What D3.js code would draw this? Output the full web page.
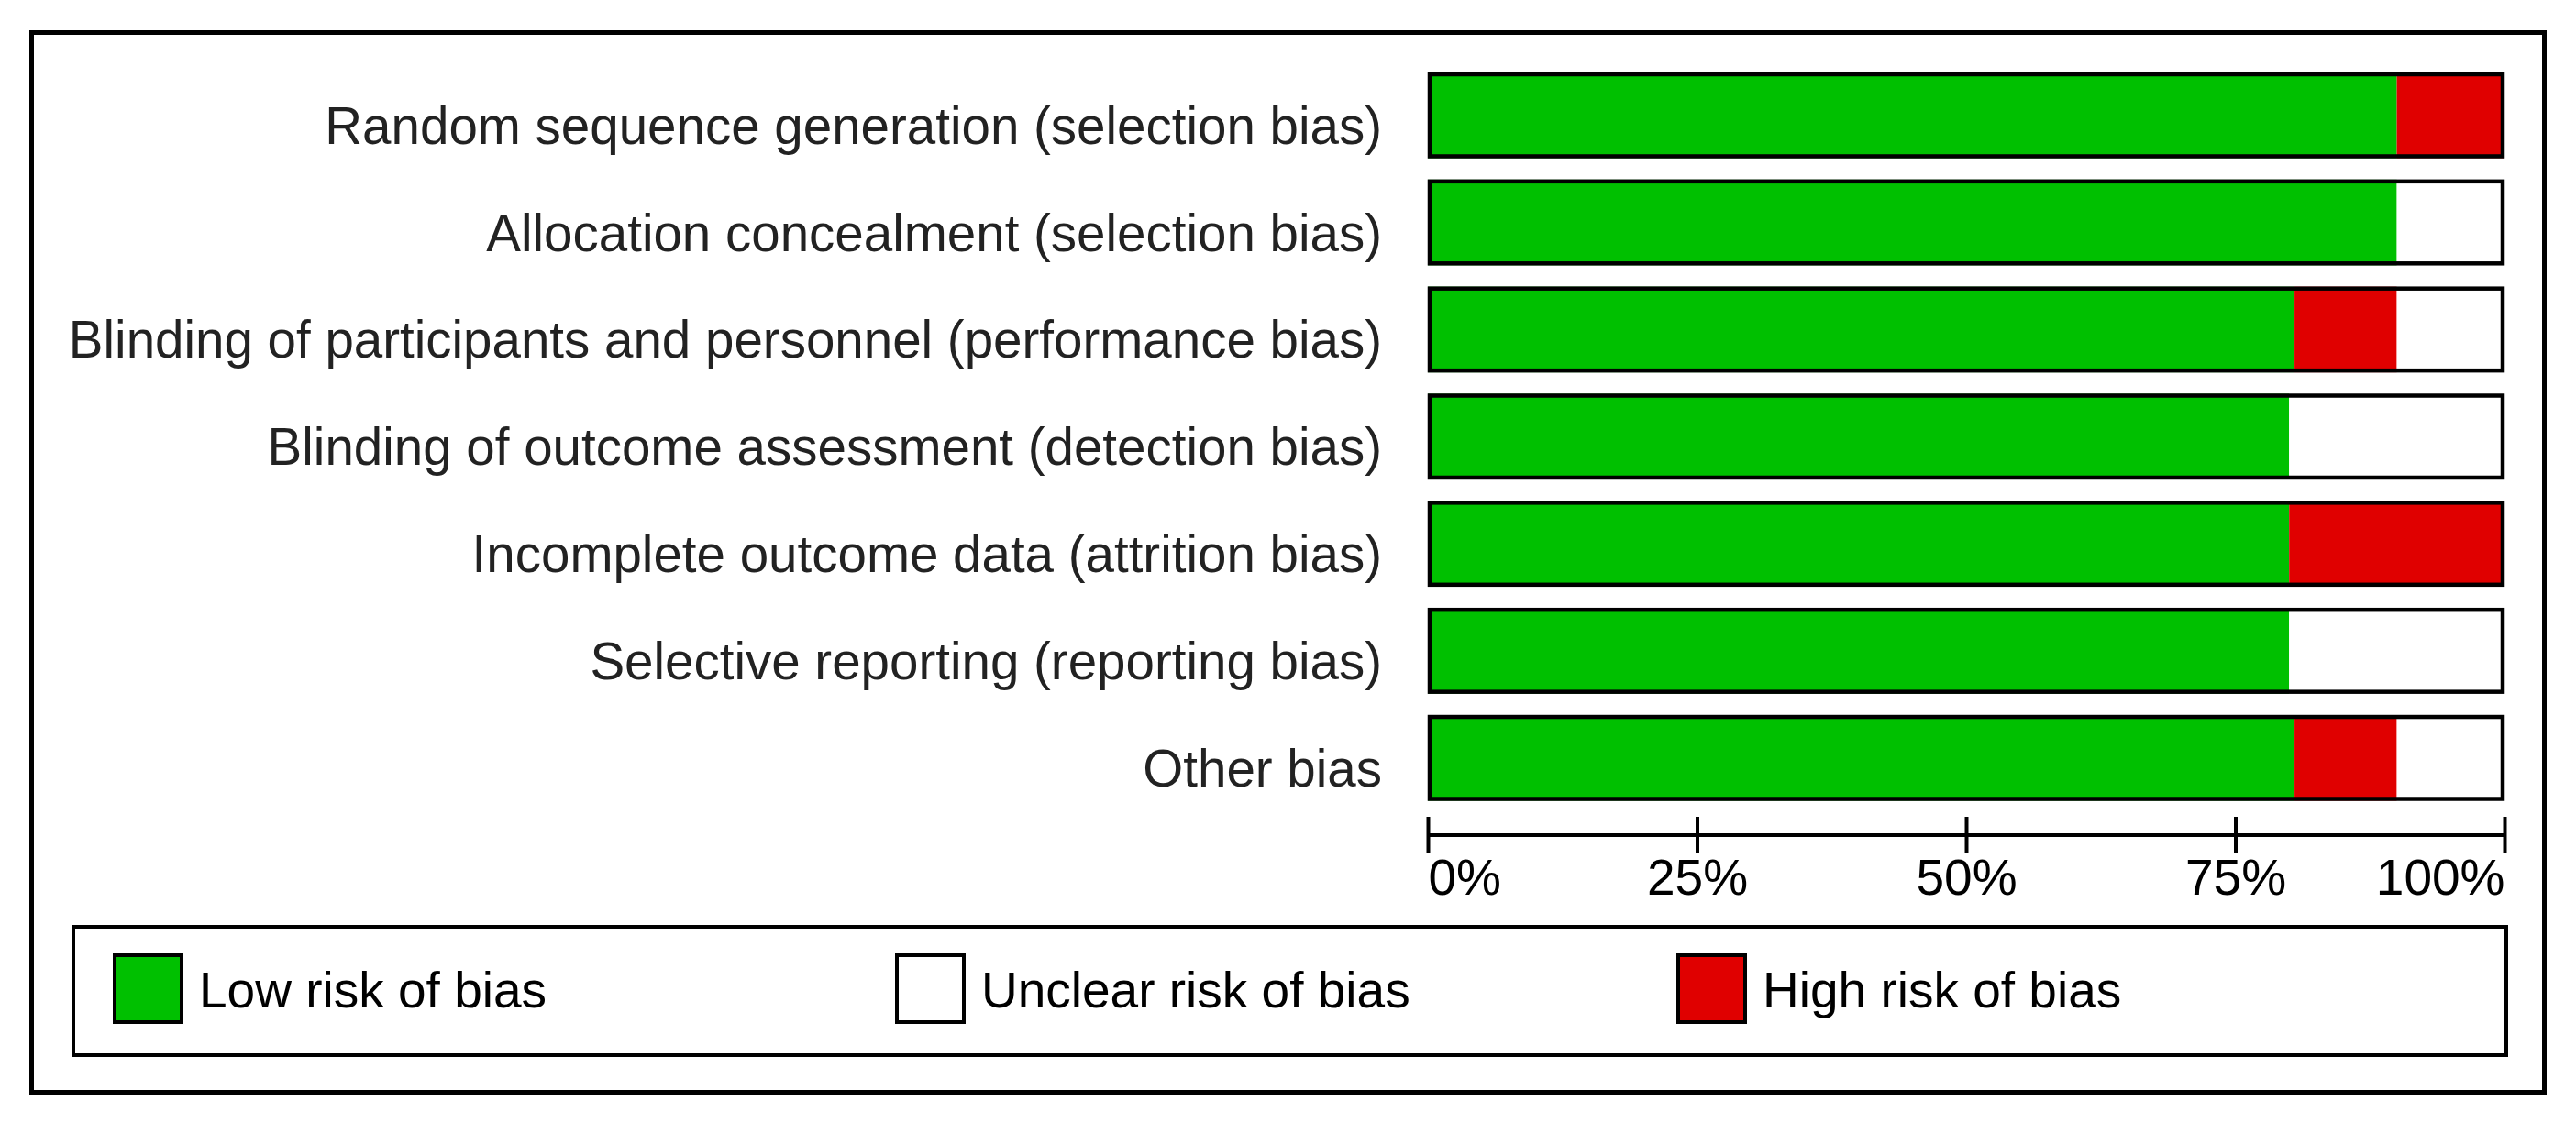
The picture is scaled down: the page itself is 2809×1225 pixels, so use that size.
<!DOCTYPE html>
<html>
<head>
<meta charset="utf-8">
<script src="https://cdnjs.cloudflare.com/ajax/libs/d3/7.8.5/d3.min.js"></script>
<style>
  html, body { margin: 0; padding: 0; background: #fff; }
  svg { display: block; }
</style>
</head>
<body>
<svg id="chart" width="2809" height="1225"></svg>
<script>
// Risk of bias graph: share of studies per judgement, one row per domain

var domains = [
    "Random sequence generation (selection bias)",
    "Allocation concealment (selection bias)",
    "Blinding of participants and personnel (performance bias)",
    "Blinding of outcome assessment (detection bias)",
    "Incomplete outcome data (attrition bias)",
    "Selective reporting (reporting bias)",
    "Other bias"
];
var lowRisk     = [90, 90, 80.5, 80, 80, 80, 80.5];
var highRisk    = [10,  0,  9.5,  0, 20,  0,  9.5];
var unclearRisk = [ 0, 10, 10,   20,  0, 20, 10];

var judgements = ["low", "high", "unclear"];
var legendLabels = ["Low risk of bias", "Unclear risk of bias", "High risk of bias"];
var legendKeys = ["low", "unclear", "high"];
var tickValues = [0, 25, 50, 75, 100];

var colors = { low: "#00c000", high: "#e00000", unclear: "#ffffff" };

var svg = d3.select("#chart");

// outer frame
svg.append("rect")
    .attr("x", 34.5).attr("y", 35.5)
    .attr("width", 2740).attr("height", 1156)
    .attr("fill", "none").attr("stroke", "#000").attr("stroke-width", 5);

var x = d3.scaleLinear().domain([0, 100]).range([1557, 2731]);
var y = d3.scaleBand().domain(domains).range([79, 79 + 113.5 * 7]).paddingInner(0.2).paddingOuter(0);

var rows = domains.map(function(d, i) {
    return { name: d, low: lowRisk[i], high: highRisk[i], unclear: unclearRisk[i] };
});
var series = d3.stack().keys(judgements)(rows);

// stacked segments
svg.append("g").selectAll("g")
    .data(series)
    .join("g")
        .attr("fill", function(s) { return colors[s.key]; })
    .selectAll("rect")
    .data(function(s) { return s; })
    .join("rect")
        .attr("x", function(d) { return x(d[0]); })
        .attr("y", function(d) { return y(d.data.name); })
        .attr("width", function(d) { return x(d[1]) - x(d[0]); })
        .attr("height", y.bandwidth());

// bar outlines
svg.append("g").selectAll("rect")
    .data(rows)
    .join("rect")
        .attr("x", x(0) + 2)
        .attr("y", function(d) { return y(d.name) + 2; })
        .attr("width", x(100) - x(0) - 4)
        .attr("height", y.bandwidth() - 4)
        .attr("fill", "none")
        .attr("stroke", "#000")
        .attr("stroke-width", 4.5);

// domain labels
svg.append("g").selectAll("text")
    .data(domains)
    .join("text")
        .attr("x", 1507)
        .attr("y", function(d) { return y(d) + y.bandwidth() / 2 + 31; })
        .attr("text-anchor", "end")
        .attr("font-family", "Liberation Sans, Arial, sans-serif")
        .attr("font-size", 56.5)
        .attr("fill", "#222")
        .text(function(d) { return d; });

// percentage axis (ticks cross the line)
var axis = svg.append("g")
    .attr("transform", "translate(0,911)")
    .call(d3.axisBottom(x).tickValues(tickValues).tickSize(20).tickFormat(function(d) { return d + "%"; }));

axis.select(".domain").attr("stroke", "#000").attr("stroke-width", 4)
    .attr("d", "M" + x(0) + ",0H" + x(100));
axis.selectAll(".tick line").attr("y1", -20).attr("y2", 20).attr("stroke", "#000").attr("stroke-width", 4);
axis.selectAll(".tick text")
    .attr("y", 65).attr("dy", 0)
    .attr("fill", "#000")
    .attr("font-family", "Liberation Sans, Arial, sans-serif")
    .attr("font-size", 55)
    .attr("text-anchor", function(d, i) { return i === 0 ? "start" : (i === tickValues.length - 1 ? "end" : "middle"); });

// legend
var legend = svg.append("g");
legend.append("rect")
    .attr("x", 80).attr("y", 1011)
    .attr("width", 2653).attr("height", 140)
    .attr("fill", "none").attr("stroke", "#000").attr("stroke-width", 4);

var legendX = [123, 976, 1828];
var item = legend.selectAll("g.item")
    .data(legendKeys)
    .join("g")
        .attr("class", "item")
        .attr("transform", function(d, i) { return "translate(" + legendX[i] + ",1040)"; });

item.append("rect")
    .attr("x", 2).attr("y", 2)
    .attr("width", 73).attr("height", 73)
    .attr("fill", function(d) { return colors[d]; })
    .attr("stroke", "#000").attr("stroke-width", 4);

item.append("text")
    .attr("x", 94).attr("y", 59)
    .attr("font-family", "Liberation Sans, Arial, sans-serif")
    .attr("font-size", 55)
    .attr("fill", "#000")
    .text(function(d, i) { return legendLabels[i]; });
</script>
</body>
</html>
